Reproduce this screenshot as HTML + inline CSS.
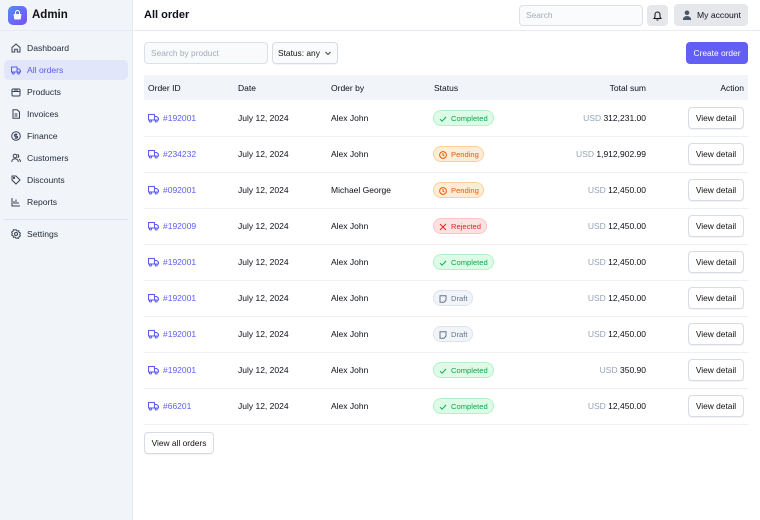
<!DOCTYPE html>
<html><head><meta charset="utf-8">
<style>
*{box-sizing:border-box;margin:0;padding:0}
body{width:760px;height:520px;overflow:hidden;background:#fff;font-family:"Liberation Sans",Arial,sans-serif;color:#0b0f19;position:relative}
.abs{position:absolute}
.side{left:0;top:0;width:133px;height:520px;background:#f1f4f9;border-right:1px solid #e5e9f0}
.hline{left:0;top:30px;width:760px;height:1px;background:#e8ecf2}
.logo{left:8px;top:6px;width:19px;height:19px;border-radius:5px;background:linear-gradient(135deg,#4f8ff7,#7c4df2)}
.brand{left:32px;top:9px;font-size:11.5px;font-weight:bold;color:#111}
.nav{left:4px;width:124px;height:20px;border-radius:5px;font-size:8.6px;color:#1f2937;line-height:20px;padding-left:23px}
.nav svg{position:absolute;left:7px;top:5px;width:10px;height:10px}
.nav.act{background:#e2e6fb;color:#5b5bf0}
.sep{left:4px;top:219px;width:124px;height:1px;background:#dfe3ea}
.title{left:144px;top:9px;font-size:11px;font-weight:bold}
.inp{border:1px solid #dbe1ea;border-radius:4px;background:#f8fafc;font-size:8.4px;color:#a3acb9;padding-left:6px}
.btn{border:1px solid #d7dce4;border-radius:4px;background:#fff;font-size:8.4px;color:#111;text-align:center;box-shadow:0 1px 1px rgba(0,0,0,.05)}
.th{top:75px;left:144px;width:604px;height:25px;background:#f1f4f9}
.t{font-size:8.5px;position:absolute}
.row{left:144px;width:604px;height:1px;background:#eceff4}
.badge{position:absolute;left:433px;height:16px;border-radius:8px;font-size:7.6px;line-height:15px;padding-left:17px;border:1px solid}
.badge svg{position:absolute;left:5px;top:3.5px;width:8px;height:8px}
.g{background:#dcfce7;border-color:#b5f0c8;color:#16a34a}
.o{background:#ffedd5;border-color:#fdcf9f;color:#ea580c}
.r{background:#fee2e2;border-color:#fcc5c5;color:#dc2626}
.d{background:#f1f5f9;border-color:#dde3eb;color:#64748b}
.id{color:#5b5ff0}
.usd{color:#94a3b8}
</style></head><body>
<div class="abs side"></div>
<div class="abs hline"></div>
<div class="abs logo"><svg width="19" height="19" viewBox="0 0 19 19"><path d="M5.5 8h8l-.8 5.5H6.3z" fill="#fff" opacity=".95"/><path d="M7.5 8V6.5a2 2 0 0 1 4 0V8" stroke="#fff" fill="none" stroke-width="1"/></svg></div>
<div class="abs brand">Admin</div>

<div class="abs nav" style="top:38px"><svg viewBox="0 0 10 10" fill="none" stroke="#374151" stroke-width="1"><path d="M1 4.5L5 1l4 3.5V9H6.3V6.3H3.7V9H1z"/></svg>Dashboard</div>
<div class="abs nav act" style="top:60px"><svg viewBox="0 0 10 10" fill="none" stroke="#5b5bf0" stroke-width="1"><rect x=".5" y="2" width="5.5" height="5"/><path d="M6 4h2l1.5 1.6V7H6"/><circle cx="2.3" cy="8" r="1"/><circle cx="7.5" cy="8" r="1"/></svg>All orders</div>
<div class="abs nav" style="top:82px"><svg viewBox="0 0 10 10" fill="none" stroke="#374151" stroke-width="1"><rect x="1" y="2" width="8" height="7" rx="1"/><path d="M1 4.5h8M4 2v2.5M6 2v2.5"/></svg>Products</div>
<div class="abs nav" style="top:104px"><svg viewBox="0 0 10 10" fill="none" stroke="#374151" stroke-width="1"><path d="M2 .8h4.2L8.5 3v6.2H2z"/><path d="M3.5 5h3M3.5 7h3"/></svg>Invoices</div>
<div class="abs nav" style="top:126px"><svg viewBox="0 0 10 10" fill="none" stroke="#374151" stroke-width="1"><circle cx="5" cy="5" r="4.3"/><path d="M6.3 3.5H4.3a.9.9 0 0 0 0 1.8h1.4a.9.9 0 0 1 0 1.8H3.6M5 2.3v5.4"/></svg>Finance</div>
<div class="abs nav" style="top:148px"><svg viewBox="0 0 10 10" fill="none" stroke="#374151" stroke-width="1"><circle cx="4" cy="3" r="1.8"/><path d="M.7 9a3.3 3.3 0 0 1 6.6 0"/><path d="M6.5 1.3a1.8 1.8 0 0 1 0 3.4M8 6.2A3 3 0 0 1 9.4 9"/></svg>Customers</div>
<div class="abs nav" style="top:170px"><svg viewBox="0 0 10 10" fill="none" stroke="#374151" stroke-width="1"><path d="M1 1h4l4 4-4 4-4-4z"/><circle cx="3" cy="3" r=".6"/></svg>Discounts</div>
<div class="abs nav" style="top:192px"><svg viewBox="0 0 10 10" fill="none" stroke="#374151" stroke-width="1"><path d="M1 1v8h8M3 7V4M5 7V2.5M7 7V5"/></svg>Reports</div>
<div class="abs sep"></div>
<div class="abs nav" style="top:224px"><svg viewBox="0 0 10 10" fill="none" stroke="#374151" stroke-width="1"><circle cx="5" cy="5" r="1.5"/><path d="M5 .7l1 1.3 1.6-.3.4 1.6 1.4.8-.7 1.4.7 1.4-1.4.8-.4 1.6-1.6-.3L5 9.3 4 8l-1.6.3L2 6.7.6 5.9 1.3 4.5.6 3.1 2 2.3l.4-1.6L4 1z"/></svg>Settings</div>

<div class="abs title">All order</div>
<div class="abs inp" style="left:519px;top:5px;width:124px;height:21px;line-height:19px;background:#fafbfc">Search</div>
<div class="abs" style="left:647px;top:5px;width:21px;height:21px;border-radius:4px;background:#e5e7eb"><svg width="21" height="21" viewBox="0 0 21 21" fill="none" stroke="#111" stroke-width="1"><path d="M7 13.5h7l-1-1.5V9.5a2.5 2.5 0 0 0-5 0V12z"/><path d="M9.5 15h2"/></svg></div>
<div class="abs" style="left:674px;top:4px;width:74px;height:22px;border-radius:4px;background:#e5e7eb;font-size:8.6px;line-height:22px;padding-left:23px">My account<svg style="position:absolute;left:8px;top:6px" width="10" height="10" viewBox="0 0 10 10" fill="#475569"><circle cx="5" cy="2.8" r="2.3"/><path d="M.8 10a4.2 4 0 0 1 8.4 0z"/></svg></div>

<div class="abs inp" style="left:144px;top:42px;width:124px;height:22px;line-height:20px">Search by product</div>
<div class="abs btn" style="left:272px;top:42px;width:66px;height:22px;line-height:20px;text-align:left;padding-left:5px;background:#fafbfc">Status: any<svg style="position:absolute;left:52px;top:8px" width="6" height="5" viewBox="0 0 6 5" fill="none" stroke="#333" stroke-width=".9"><path d="M.5 1l2.5 2.5L5.5 1"/></svg></div>
<div class="abs" style="left:686px;top:42px;width:62px;height:22px;border-radius:4px;background:#635ff5;color:#fff;font-size:8.4px;line-height:22px;text-align:center">Create order</div>

<div class="abs th"></div>
<div class="t" style="left:148px;top:83px">Order ID</div>
<div class="t" style="left:238px;top:83px">Date</div>
<div class="t" style="left:331px;top:83px">Order by</div>
<div class="t" style="left:434px;top:83px">Status</div>
<div class="t" style="left:546px;top:83px;width:100px;text-align:right">Total sum</div>
<div class="t" style="left:684px;top:83px;width:60px;text-align:right">Action</div>

<div id="rows"></div>
<script>
var data=[
["#192001","Alex John","g","Completed","312,231.00"],
["#234232","Alex John","o","Pending","1,912,902.99"],
["#092001","Michael George","o","Pending","12,450.00"],
["#192009","Alex John","r","Rejected","12,450.00"],
["#192001","Alex John","g","Completed","12,450.00"],
["#192001","Alex John","d","Draft","12,450.00"],
["#192001","Alex John","d","Draft","12,450.00"],
["#192001","Alex John","g","Completed","350.90"],
["#66201","Alex John","g","Completed","12,450.00"]];
var icons={
g:'<svg viewBox="0 0 8 8" fill="none" stroke="#16a34a" stroke-width="1"><path d="M1 4.2l2 2 4-4.2"/></svg>',
o:'<svg viewBox="0 0 8 8" fill="none" stroke="#ea580c" stroke-width="1"><circle cx="4" cy="4" r="3.4"/><path d="M4 2v2.2l1.3.8"/></svg>',
r:'<svg viewBox="0 0 8 8" fill="none" stroke="#dc2626" stroke-width="1"><path d="M1 1l6 6M7 1L1 7"/></svg>',
d:'<svg viewBox="0 0 8 8" fill="none" stroke="#64748b" stroke-width="1"><path d="M1 .8h6v4.2L5 7.2H1z"/></svg>'};
var widths={Completed:61,Pending:51,Rejected:54,Draft:40};
var h='';
for(var i=0;i<data.length;i++){
 var d=data[i],c=100+36*i+18;
 h+='<svg class="abs" style="left:148px;top:'+(c-5)+'px" width="11" height="10" viewBox="0 0 11 10" fill="none" stroke="#5b5ff0" stroke-width="1.1"><rect x=".5" y="1.5" width="6" height="5.5"/><path d="M6.5 3.5h2.2l1.8 1.8V7H6.5"/><circle cx="2.5" cy="8" r="1" fill="#fff"/><circle cx="8.2" cy="8" r="1" fill="#fff"/></svg>';
 h+='<div class="t id" style="left:163px;top:'+(c-5)+'px">'+d[0]+'</div>';
 h+='<div class="t" style="left:238px;top:'+(c-5)+'px">July 12, 2024</div>';
 h+='<div class="t" style="left:331px;top:'+(c-5)+'px">'+d[1]+'</div>';
 h+='<div class="badge '+d[2]+'" style="top:'+(c-8)+'px;width:'+widths[d[3]]+'px">'+icons[d[2]]+d[3]+'</div>';
 h+='<div class="t" style="left:500px;top:'+(c-5)+'px;width:146px;text-align:right"><span class="usd">USD</span> '+d[4]+'</div>';
 h+='<div class="abs btn" style="left:688px;top:'+(c-11)+'px;width:56px;height:22px;line-height:20px">View detail</div>';
 h+='<div class="abs row" style="top:'+(c+18)+'px"></div>';
}
document.getElementById('rows').innerHTML=h;
</script>
<div class="abs btn" style="left:144px;top:432px;width:70px;height:22px;line-height:20px">View all orders</div>
</body></html>
